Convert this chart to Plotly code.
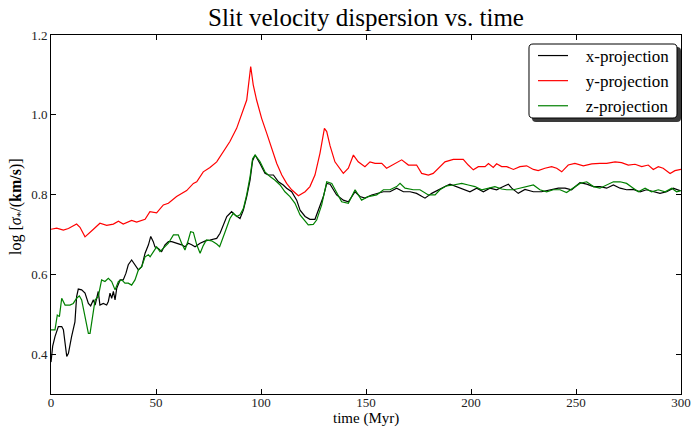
import plotly.graph_objects as go

# ---------------- data ----------------
y_time = [0, 2.7, 5.9, 8.3, 12.2, 13.8, 16.2, 18.6, 20.2, 23.3,
          26.5, 29.7, 32.1, 34.4, 38.4, 40.8, 44.8, 47.1, 50.3, 53.5,
          55.9, 59.8, 64.6, 67.8, 69.4, 72.5, 75.7, 78.9, 82.0, 85.2,
          88.4, 91.6, 93.2, 95.1, 96.3, 97.9, 100.3, 102.7, 105.1, 107.5,
          109.9, 112.2, 114.6, 117.8, 121.0, 123.3, 125.7, 128.1, 130.2, 131.3,
          132.9, 135.2, 139.2, 141.6, 144.0, 146.3, 149.5, 151.9, 154.3, 157.5,
          159.8, 163.8, 167.0, 170.2, 174.1, 176.5, 179.7, 182.0, 184.4, 187.6,
          191.6, 196.3, 198.7, 201.1, 203.5, 206.7, 208.3, 210.6, 212.2, 214.6,
          217.0, 220.2, 223.3, 226.5, 229.7, 232.0, 235.2, 238.4, 240.8, 243.2,
          246.3, 249.5, 253.5, 257.5, 261.4, 264.6, 268.6, 271.7, 274.9, 278.1,
          281.3, 284.4, 286.8, 289.2, 291.5, 294.8, 297.1, 300.0]
y_proj = [0.713, 0.716, 0.711, 0.715, 0.726, 0.718, 0.694, 0.707, 0.713, 0.728,
          0.723, 0.726, 0.733, 0.726, 0.735, 0.731, 0.738, 0.757, 0.754, 0.774,
          0.778, 0.795, 0.810, 0.828, 0.832, 0.857, 0.868, 0.882, 0.906, 0.933,
          0.966, 1.012, 1.037, 1.121, 1.075, 1.037, 0.991, 0.954, 0.916, 0.878,
          0.849, 0.828, 0.812, 0.797, 0.807, 0.820, 0.849, 0.904, 0.966, 0.958,
          0.922, 0.882, 0.853, 0.866, 0.899, 0.882, 0.870, 0.882, 0.878, 0.878,
          0.866, 0.878, 0.887, 0.874, 0.874, 0.853, 0.849, 0.853, 0.866, 0.882,
          0.888, 0.888, 0.874, 0.862, 0.870, 0.870, 0.878, 0.868, 0.877, 0.870,
          0.870, 0.863, 0.870, 0.872, 0.863, 0.860, 0.866, 0.870, 0.866, 0.857,
          0.874, 0.878, 0.872, 0.877, 0.878, 0.878, 0.882, 0.880, 0.874, 0.876,
          0.870, 0.874, 0.863, 0.870, 0.866, 0.853, 0.860, 0.863]

x_time = [0, 0.8, 1.9, 3.5, 5.1, 5.9, 7.5, 8.3, 9.8, 11.4,
          12.2, 13.0, 14.6, 16.2, 17.8, 18.9, 20.2, 21.0, 22.5, 23.3,
          24.9, 26.5, 27.3, 28.1, 28.9, 29.7, 30.5, 31.3, 32.9, 34.4,
          35.7, 36.8, 38.4, 40.0, 41.6, 43.2, 44.8, 46.4, 47.5, 48.7,
          49.5, 51.1, 52.7, 54.3, 55.9, 57.5, 59.8, 62.2, 63.8, 65.4,
          67.0, 68.6, 71.0, 73.5, 75.7, 78.9, 80.5, 82.0, 83.7, 86.0,
          87.6, 90.0, 91.6, 93.2, 94.8, 96.0, 97.2, 99.5, 101.9, 103.5,
          105.9, 108.3, 110.6, 112.2, 114.6, 117.0, 118.6, 121.0, 123.3, 125.7,
          128.1, 129.7, 131.3, 132.9, 136.0, 139.2, 141.6, 144.8, 147.1, 149.5,
          152.7, 155.1, 158.3, 161.4, 164.6, 167.8, 171.0, 174.1, 178.1, 181.3,
          184.4, 187.6, 190.0, 193.2, 195.6, 199.5, 202.7, 205.9, 209.0, 212.2,
          215.4, 217.8, 219.4, 222.5, 225.7, 229.7, 233.6, 237.6, 241.6, 244.8,
          247.9, 251.9, 255.1, 258.3, 261.4, 264.6, 267.8, 271.0, 274.1, 277.3,
          280.5, 283.6, 286.8, 290.0, 293.2, 296.3, 299.5]
x_proj = [0.380, 0.420, 0.444, 0.469, 0.469, 0.461, 0.394, 0.402, 0.444, 0.481,
          0.544, 0.563, 0.561, 0.553, 0.527, 0.521, 0.536, 0.523, 0.557, 0.523,
          0.527, 0.523, 0.532, 0.553, 0.540, 0.557, 0.536, 0.565, 0.586, 0.586,
          0.603, 0.624, 0.636, 0.624, 0.611, 0.619, 0.653, 0.674, 0.695, 0.682,
          0.669, 0.665, 0.657, 0.674, 0.682, 0.682, 0.678, 0.674, 0.669, 0.678,
          0.674, 0.669, 0.678, 0.684, 0.686, 0.690, 0.703, 0.724, 0.745, 0.757,
          0.749, 0.740, 0.761, 0.795, 0.837, 0.885, 0.899, 0.878, 0.853, 0.849,
          0.849, 0.832, 0.824, 0.816, 0.807, 0.786, 0.761, 0.745, 0.738, 0.738,
          0.770, 0.795, 0.828, 0.826, 0.799, 0.786, 0.782, 0.807, 0.795, 0.791,
          0.799, 0.803, 0.807, 0.807, 0.816, 0.807, 0.807, 0.803, 0.791, 0.803,
          0.812, 0.820, 0.826, 0.820, 0.816, 0.807, 0.816, 0.807, 0.816, 0.812,
          0.820, 0.826, 0.816, 0.803, 0.813, 0.807, 0.807, 0.812, 0.816, 0.816,
          0.812, 0.830, 0.826, 0.820, 0.820, 0.816, 0.824, 0.816, 0.812, 0.813,
          0.807, 0.812, 0.807, 0.803, 0.807, 0.816, 0.810]

z_time = [0, 1.9, 3.0, 4.0, 5.1, 6.7, 9.0, 10.6, 12.2, 13.5,
          14.6, 16.2, 17.8, 18.6, 19.9, 21.0, 22.5, 24.1, 25.7, 27.3,
          28.9, 30.5, 32.1, 33.7, 35.2, 36.8, 38.4, 40.0, 41.6, 43.2,
          44.8, 46.4, 47.2, 48.7, 50.3, 51.9, 53.5, 55.9, 58.3, 60.6,
          62.2, 63.8, 65.4, 66.5, 67.8, 69.4, 71.0, 72.5, 74.0, 76.5,
          78.9, 80.3, 82.8, 85.2, 86.8, 88.4, 90.0, 91.6, 93.2, 94.8,
          96.0, 97.2, 99.5, 101.9, 104.3, 106.7, 109.1, 111.4, 113.8, 116.2,
          118.6, 121.0, 122.5, 124.9, 126.5, 128.9, 131.3, 133.7, 136.0, 138.4,
          141.6, 144.8, 147.9, 151.1, 155.1, 158.3, 161.4, 164.6, 166.2, 168.6,
          172.5, 175.7, 179.7, 182.9, 185.2, 188.4, 191.6, 195.6, 198.7, 201.9,
          205.1, 208.3, 211.4, 214.6, 217.0, 220.2, 223.3, 226.5, 229.7, 232.8,
          236.0, 239.2, 242.4, 245.5, 248.7, 251.9, 255.1, 258.3, 261.4, 264.6,
          267.8, 271.0, 274.1, 277.3, 279.7, 282.9, 286.0, 289.2, 292.4, 295.6,
          297.9, 300.0]
z_proj = [0.461, 0.461, 0.498, 0.494, 0.540, 0.523, 0.523, 0.527, 0.540, 0.546,
          0.536, 0.498, 0.452, 0.452, 0.502, 0.536, 0.544, 0.586, 0.582, 0.590,
          0.582, 0.561, 0.582, 0.586, 0.578, 0.578, 0.573, 0.586, 0.611, 0.619,
          0.644, 0.649, 0.644, 0.657, 0.669, 0.657, 0.665, 0.678, 0.699, 0.699,
          0.678, 0.661, 0.686, 0.707, 0.705, 0.674, 0.653, 0.672, 0.686, 0.684,
          0.676, 0.669, 0.705, 0.740, 0.753, 0.745, 0.749, 0.765, 0.800, 0.845,
          0.890, 0.899, 0.883, 0.857, 0.845, 0.836, 0.824, 0.807, 0.795, 0.778,
          0.749, 0.732, 0.724, 0.725, 0.736, 0.774, 0.832, 0.828, 0.807, 0.782,
          0.778, 0.812, 0.786, 0.795, 0.799, 0.812, 0.812, 0.820, 0.828, 0.816,
          0.812, 0.812, 0.799, 0.799, 0.812, 0.822, 0.824, 0.828, 0.824, 0.820,
          0.812, 0.816, 0.820, 0.814, 0.812, 0.812, 0.816, 0.820, 0.824, 0.812,
          0.807, 0.812, 0.812, 0.805, 0.816, 0.828, 0.832, 0.820, 0.816, 0.824,
          0.832, 0.832, 0.828, 0.816, 0.807, 0.816, 0.807, 0.812, 0.807, 0.816,
          0.807, 0.810]

x_ticks = [0, 50, 100, 150, 200, 250, 300]
y_ticks = [0.4, 0.6, 0.8, 1.0, 1.2]
y_tick_text = ["0.4", "0.6", "0.8", "1.0", "1.2"]
series_names = ["x-projection", "y-projection", "z-projection"]
title_text = "Slit velocity dispersion vs. time"
x_title = "time (Myr)"
y_title = "log [<i>σ</i><sub>*</sub>/(<b>km/s</b>)]"

# ---------------- figure ----------------
SERIF = "Liberation Serif, DejaVu Serif, serif"
W, H = 691, 428
L, R, T, B = 51, 10, 35, 34
pw, ph = W - L - R, H - T - B


def px(xp):
    return (xp - L) / pw


def py(yp):
    return (H - B - yp) / ph


PAD = "\u00a0" * 3
fig = go.Figure()
for tx, vals, name, col in [(x_time, x_proj, series_names[0], "black"),
                            (y_time, y_proj, series_names[1], "#ff0000"),
                            (z_time, z_proj, series_names[2], "#008000")]:
    fig.add_trace(go.Scatter(x=tx, y=vals, mode="lines", name=PAD + name,
                             line=dict(color=col, width=1.2)))


def rounded_rect(x0, y0, x1, y1, r):
    def P(x, y):
        return f"{px(x):.5f},{py(y):.5f}"
    return (f"M {P(x0 + r, y0)} L {P(x1 - r, y0)} Q {P(x1, y0)} {P(x1, y0 + r)} "
            f"L {P(x1, y1 - r)} Q {P(x1, y1)} {P(x1 - r, y1)} "
            f"L {P(x0 + r, y1)} Q {P(x0, y1)} {P(x0, y1 - r)} "
            f"L {P(x0, y0 + r)} Q {P(x0, y0)} {P(x0 + r, y0)} Z")


# legend frame with drop shadow (matplotlib fancybox style)
fig.add_shape(type="path", xref="paper", yref="paper",
              path=rounded_rect(532, 47, 681, 122, 4),
              fillcolor="#3a3a3a", line=dict(width=0), layer="above")
fig.add_shape(type="path", xref="paper", yref="paper",
              path=rounded_rect(529, 44, 677, 118, 4),
              fillcolor="white", line=dict(color="black", width=1), layer="above")

# axis titles as annotations for exact placement
fig.add_annotation(text=x_title, xref="paper", yref="paper", x=0.5, y=py(428),
                   xanchor="center", yanchor="bottom", showarrow=False, borderpad=0,
                   font=dict(family=SERIF, size=15, color="black"))
fig.add_annotation(text=y_title, xref="paper", yref="paper", x=px(16), y=py(207),
                   xanchor="center", yanchor="middle", showarrow=False, textangle=-90,
                   font=dict(family=SERIF, size=16, color="black"))

axis_common = dict(showline=True, linecolor="black", linewidth=1, mirror="allticks",
                   ticks="inside", ticklen=5, tickcolor="black", showgrid=False,
                   zeroline=False, automargin=False,
                   tickfont=dict(family=SERIF, size=13, color="#222"))

fig.update_layout(
    width=W, height=H,
    margin=dict(l=L, r=R, t=T, b=B),
    paper_bgcolor="white", plot_bgcolor="white",
    title=dict(text=title_text, x=(L + pw / 2) / W, xanchor="center",
               y=1 - 17 / H, yanchor="middle", yref="container",
               font=dict(family=SERIF, size=25, color="black")),
    xaxis=dict(range=[0, 300], tickvals=x_ticks, ticklabelstandoff=-4, **axis_common),
    yaxis=dict(range=[0.3, 1.2], tickvals=y_ticks, ticktext=y_tick_text, **axis_common),
    legend=dict(x=px(533), y=py(38), xanchor="left", yanchor="top",
                bgcolor="rgba(0,0,0,0)", borderwidth=0,
                font=dict(family=SERIF, size=17, color="black"),
                itemwidth=30, tracegroupgap=0),
    showlegend=True,
)

fig.write_html("out.html")
